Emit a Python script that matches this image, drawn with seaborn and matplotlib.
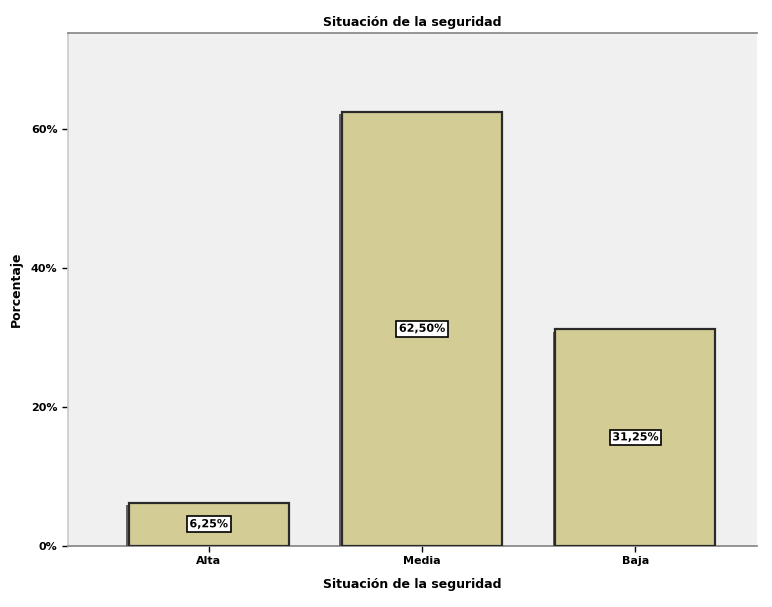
import matplotlib
matplotlib.use("Agg")
import matplotlib.pyplot as plt
import matplotlib.patheffects as pe
import seaborn as sns
import pandas as pd

categorias = ["Alta", "Media", "Baja"]
porcentajes = [6.25, 62.50, 31.25]
etiquetas = ["6,25%", "62,50%", "31,25%"]
ticks_y = [0, 20, 40, 60]
ticks_y_txt = ["0%", "20%", "40%", "60%"]

df = pd.DataFrame({"Situación": categorias, "Porcentaje": porcentajes})

sns.set_theme(style="white")
plt.rcParams["font.family"] = ["DejaVu Sans"]

fig = plt.figure(figsize=(7.72, 6.07), dpi=100)
ax = fig.add_axes([68 / 772, 1 - 546 / 607, 689 / 772, 513 / 607])
ax.set_facecolor("#F0F0F0")

sns.barplot(data=df, x="Situación", y="Porcentaje", color="#D3CD95",
            saturation=1, width=0.75, edgecolor="#2a2a2a", linewidth=1.6,
            ax=ax, zorder=3)

for bar in ax.patches:
    bar.set_path_effects([pe.SimplePatchShadow(offset=(-2, -2), shadow_rgbFace="#555555", alpha=0.9),
                          pe.Normal()])

for i, (v, txt) in enumerate(zip(porcentajes, etiquetas)):
    ax.text(i, v / 2, txt, ha="center", va="center", fontsize=8, fontweight="bold",
            color="black", zorder=5,
            bbox=dict(boxstyle="square,pad=0.25", facecolor="white", edgecolor="black", linewidth=1.2),
            path_effects=[pe.Normal()])

ax.set_xlim(-0.66, 2.57)
ax.set_ylim(0, 73.8)
ax.set_yticks(ticks_y)
ax.set_yticklabels(ticks_y_txt)
ax.tick_params(axis="both", labelsize=8, length=4, width=1, colors="black", direction="out",
               bottom=True, left=True)
for lab in ax.get_xticklabels() + ax.get_yticklabels():
    lab.set_fontweight("bold")
ax.spines["right"].set_visible(False)
ax.spines["left"].set_color("#cccccc")
ax.spines["bottom"].set_color("#888888")
ax.spines["top"].set_color("#888888")

ax.set_xlabel("Situación de la seguridad", fontsize=9, fontweight="bold", labelpad=8, color="black")
ax.set_ylabel("Porcentaje", fontsize=9, fontweight="bold", labelpad=6, color="black")
ax.set_title("Situación de la seguridad", fontsize=9, fontweight="bold", pad=5, color="black")

fig.savefig("out.png", dpi=100, facecolor="white")
